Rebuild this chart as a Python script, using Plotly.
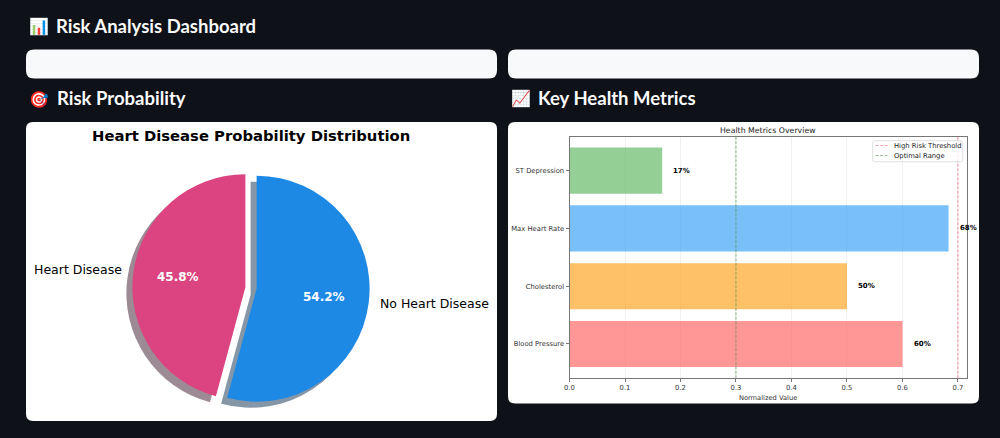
import plotly.graph_objects as go

W, H = 1000, 438
BG = "#0e1117"
PANEL = "#ffffff"
CARD = "#f8f9fb"
MPL_FONT = "DejaVu Sans"
HEAD_FONT = "Lato, Noto Color Emoji, sans-serif"

# Pie data
pie_labels = ["Heart Disease", "No Heart Disease"]
pie_values = [45.8, 54.2]
pie_colors = ["#db4480", "#1e88e5"]
pie_shadow_colors = ["#9c8b94", "#8596a6"]
pie_pull = 0.05

# Bar data
metric_names = ["Blood Pressure", "Cholesterol", "Max Heart Rate", "ST Depression"]
metric_values = [0.6, 0.5, 0.683, 0.167]
metric_colors = ["#ff6b6b", "#ffa726", "#42a5f5", "#66bb6a"]
high_risk_threshold = 0.7
optimal_range = 0.3
x_ticks = [0.0, 0.1, 0.2, 0.3, 0.4, 0.5, 0.6, 0.7]

RED_LINE = "rgba(230,60,90,0.45)"
GREEN_LINE = "rgba(90,150,90,0.6)"


def px(x):
    return x / W


def py(y):
    return 1 - y / H


def rounded_rect(x0, y0, x1, y1, r, color):
    X0, X1, Y0, Y1 = px(x0), px(x1), py(y0), py(y1)
    rx, ry = r / W, r / H
    path = (
        f"M {X0 + rx} {Y0} L {X1 - rx} {Y0} Q {X1} {Y0} {X1} {Y0 - ry} "
        f"L {X1} {Y1 + ry} Q {X1} {Y1} {X1 - rx} {Y1} "
        f"L {X0 + rx} {Y1} Q {X0} {Y1} {X0} {Y1 + ry} "
        f"L {X0} {Y0 - ry} Q {X0} {Y0} {X0 + rx} {Y0} Z"
    )
    return dict(type="path", path=path, xref="paper", yref="paper",
                fillcolor=color, line=dict(width=0), layer="below")


def text(x, y, s, size, color="#000000", family=MPL_FONT, weight=400,
         xanchor="center"):
    return dict(x=px(x), y=py(y), xref="paper", yref="paper", text=s,
                showarrow=False, xanchor=xanchor, yanchor="middle",
                xshift=-2 if xanchor == "left" else 0,
                font=dict(family=family, size=size, color=color, weight=weight))


def pie_domain(cx, cy, radius, pull):
    half = radius * (1 + pull)
    return dict(x=[px(cx - half), px(cx + half)], y=[py(cy + half), py(cy - half)])


fig = go.Figure()

PIE_CX, PIE_CY, PIE_R = 251, 288, 113

# First wedge ends at twelve o'clock, so it opens towards the left
pie_rotation = -360 * pie_values[0] / sum(pie_values)

# Offset copy of the wedges acts as the drop shadow
fig.add_trace(go.Pie(
    labels=pie_labels, values=pie_values, sort=False, direction="clockwise",
    rotation=pie_rotation, pull=pie_pull, textinfo="none", hoverinfo="skip", showlegend=False,
    marker=dict(colors=pie_shadow_colors, line=dict(width=0)),
    domain=pie_domain(PIE_CX - 6, PIE_CY + 6, PIE_R, pie_pull),
))
fig.add_trace(go.Pie(
    labels=pie_labels, values=pie_values, sort=False, direction="clockwise",
    rotation=pie_rotation, pull=pie_pull, textinfo="none", showlegend=False,
    marker=dict(colors=pie_colors, line=dict(width=0)),
    domain=pie_domain(PIE_CX, PIE_CY, PIE_R, pie_pull),
))

fig.add_trace(go.Bar(
    y=metric_names, x=metric_values, orientation="h", width=0.8,
    marker=dict(color=metric_colors, opacity=0.7, line=dict(width=0)),
    showlegend=False,
))

shapes = [
    rounded_rect(26, 49.5, 497, 78.5, 8, CARD),
    rounded_rect(508, 49.5, 979, 78.5, 8, CARD),
    rounded_rect(26, 122, 497, 421, 7, PANEL),
    rounded_rect(508, 122, 979, 403.5, 7, PANEL),
]

# Reference lines
for value, color in ((high_risk_threshold, RED_LINE), (optimal_range, GREEN_LINE)):
    shapes.append(dict(type="line", xref="x", yref="y domain", x0=value, x1=value,
                       y0=0, y1=1, layer="above",
                       line=dict(color=color, width=1.2, dash="3px,1.5px")))

annotations = [
    text(29, 25.5, "📊", 16, "#ffffff", HEAD_FONT, xanchor="left"),
    text(56, 25.5, "Risk Analysis Dashboard", 18.5, "#fafafa", HEAD_FONT, 700, "left"),
    text(29, 98.5, "🎯", 16, "#ffffff", HEAD_FONT, xanchor="left"),
    text(57, 98.5, "Risk Probability", 18.5, "#fafafa", HEAD_FONT, 700, "left"),
    text(511, 98.5, "📈", 16, "#ffffff", HEAD_FONT, xanchor="left"),
    text(538, 98.5, "Key Health Metrics", 18.5, "#fafafa", HEAD_FONT, 700, "left"),
    text(251, 135, "Heart Disease Probability Distribution", 14.8, weight=700),
    text(77.5, 269.5, pie_labels[0], 12.5),
    text(434.8, 303.5, pie_labels[1], 12.5),
    text(177.7, 277, f"{pie_values[0]:.1f}%", 12, "#ffffff", weight=700),
    text(324, 296.7, f"{pie_values[1]:.1f}%", 12, "#ffffff", weight=700),
    text(768, 130.5, "Health Metrics Overview", 7.8, "#222222"),
]

# Value labels just past each bar
for name, value in zip(metric_names, metric_values):
    annotations.append(dict(
        x=value + 0.02, y=name, xref="x", yref="y", text=f"{value:.0%}", xshift=-2,
        showarrow=False, xanchor="left", yanchor="middle",
        font=dict(family=MPL_FONT, size=7, color="#000000", weight=700),
    ))

# Compact legend box in the upper right corner of the axes
shapes.append(rounded_rect(872.7, 140.7, 962.7, 161.7, 2, "rgba(255,255,255,0.8)") | dict(
    layer="above", line=dict(color="rgba(200,200,200,0.8)", width=0.7)))
for y, color in ((145.5, RED_LINE), (155.5, GREEN_LINE)):
    shapes.append(dict(type="line", xref="paper", yref="paper", x0=px(875.5), x1=px(889),
                       y0=py(y), y1=py(y), layer="above",
                       line=dict(color=color, width=1, dash="3px,1.5px")))
annotations.append(text(893.7, 145.5, "High Risk Threshold", 6.8, "#222222", xanchor="left"))
annotations.append(text(893.7, 155.5, "Optimal Range", 6.8, "#222222", xanchor="left"))

axis_line = "#777777"
fig.update_layout(
    width=W, height=H, margin=dict(l=0, r=0, t=0, b=0, autoexpand=False),
    paper_bgcolor=BG, plot_bgcolor="rgba(0,0,0,0)", showlegend=False,
    shapes=shapes, annotations=annotations, bargap=0.2,
    xaxis=dict(
        domain=[px(569.5), px(966.7)], range=[0, 0.7157], tickmode="array",
        tickvals=x_ticks, ticktext=[f"{t:.1f}" for t in x_ticks],
        showgrid=True, gridcolor="rgba(176,176,176,0.2)", gridwidth=0.8, zeroline=False,
        showline=True, mirror=True, linecolor=axis_line, linewidth=1,
        ticks="outside", ticklen=3, tickwidth=0.8, tickcolor=axis_line,
        tickfont=dict(family=MPL_FONT, size=6.8, color="#333333"),
        title=dict(text="Normalized Value", standoff=3,
                   font=dict(family=MPL_FONT, size=6.7, color="#333333")),
    ),
    yaxis=dict(
        domain=[py(378.3), py(136.7)], range=[-0.594, 3.589], type="category",
        categoryorder="array", categoryarray=metric_names,
        showgrid=False, zeroline=False,
        showline=True, mirror=True, linecolor=axis_line, linewidth=1,
        ticks="outside", ticklen=3, tickwidth=0.8, tickcolor=axis_line,
        tickfont=dict(family=MPL_FONT, size=6.8, color="#333333"),
    ),
)

fig.write_html("out.html", config=dict(displayModeBar=False))
